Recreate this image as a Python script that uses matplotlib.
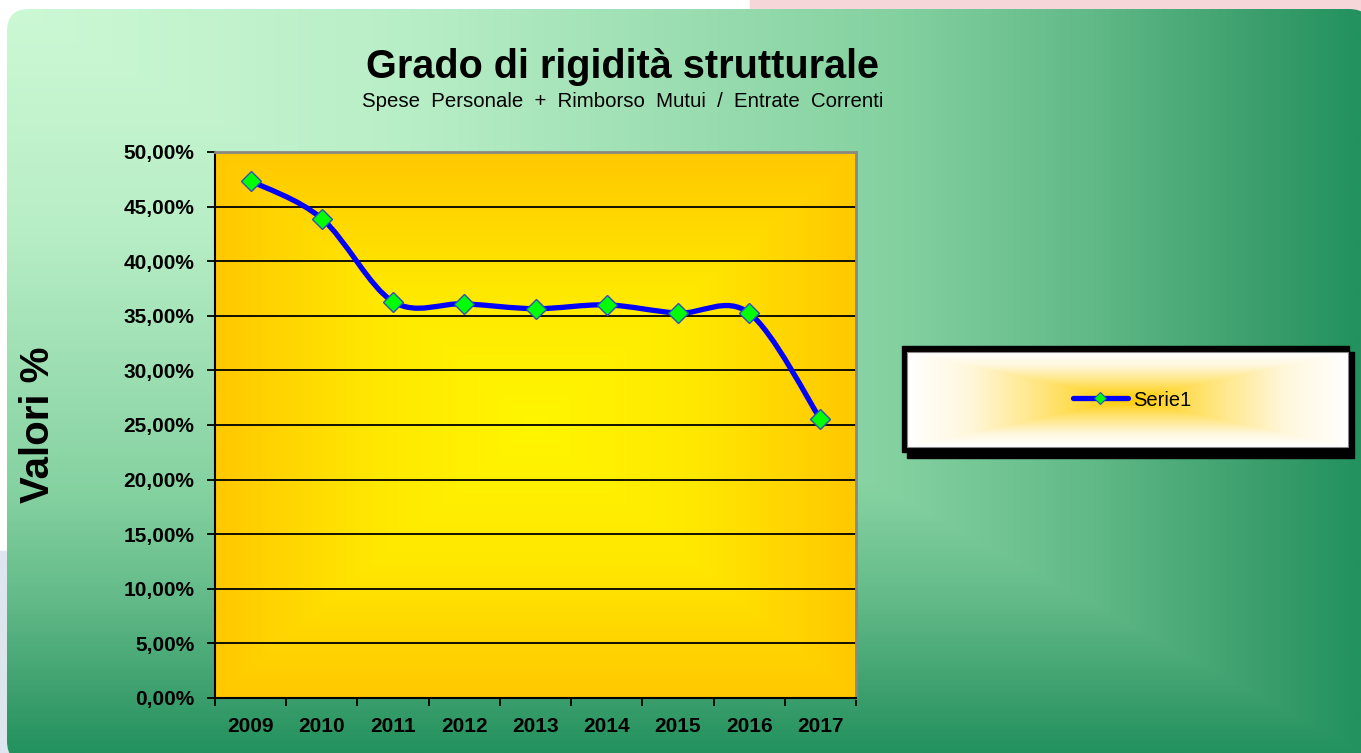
import numpy as np
import matplotlib
matplotlib.use("AGG")
import matplotlib.pyplot as plt
from matplotlib.colors import LinearSegmentedColormap
from matplotlib.patches import FancyBboxPatch, Rectangle, PathPatch
from matplotlib.path import Path
from matplotlib.lines import Line2D

plt.rcParams['font.family'] = ['Liberation Sans', 'DejaVu Sans']

# data
years = ["2009", "2010", "2011", "2012", "2013", "2014", "2015", "2016", "2017"]
values = [47.35, 43.9, 36.3, 36.1, 35.65, 36.0, 35.25, 35.25, 25.55]
yticks = [0, 5, 10, 15, 20, 25, 30, 35, 40, 45, 50]
series_name = "Serie1"

title = "Grado di rigidità strutturale"
subtitle = "Spese  Personale  +  Rimborso  Mutui  /  Entrate  Correnti"
ylabel = "Valori %"

W, H = 1361, 753
fig = plt.figure(figsize=(W / 100, H / 100), dpi=100)
fig.patch.set_facecolor("white")

# background layer in pixel coordinates
bg = fig.add_axes([0, 0, 1, 1])
bg.set_xlim(0, W)
bg.set_ylim(H, 0)
bg.axis("off")

bg.add_patch(Rectangle((750, 0), W - 750, 40, color="#f6d6d9", zorder=0))
bg.add_patch(Rectangle((0, 551), 200, H - 551, color="#dde5ee", zorder=0))

# green panel, "from corner" gradient
green = LinearSegmentedColormap.from_list("green", [
    (0.0, "#cdf9d5"), (0.3, "#b8eec6"), (0.66, "#84d1a0"),
    (0.8, "#62ba88"), (0.93, "#3a9e6c"), (1.0, "#23925e")])
gx, gy = np.meshgrid(np.linspace(0, 1, 680), np.linspace(0, 1, 376))
im = bg.imshow(np.maximum(gx, gy), cmap=green, vmin=0, vmax=1,
               extent=(0, W, H, 0), aspect="auto", zorder=1, interpolation="bilinear")
panel = FancyBboxPatch((7, 9), W + 10 - 7, H + 10 - 9,
                       boxstyle="round,pad=0,rounding_size=22",
                       facecolor="none", edgecolor="none", zorder=1)
bg.add_patch(panel)
im.set_clip_path(panel)

# legend box
bg.add_patch(Rectangle((907, 352), 447, 106, color="black", zorder=2))
bg.add_patch(Rectangle((902, 346), 447, 106, color="black", zorder=3))
lx, ly = np.meshgrid(np.linspace(-1, 1, 440), np.linspace(-1, 1, 95))
lt = np.maximum(np.abs(lx), np.abs(ly))
legcm = LinearSegmentedColormap.from_list("leg", [
    (0.0, "#ffcc00"), (0.4, "#ffe680"), (0.72, "#fff7dc"), (1.0, "#ffffff")])
bg.imshow(lt, cmap=legcm, vmin=0, vmax=1, extent=(907, 1348, 447, 352),
          aspect="auto", zorder=4, interpolation="bilinear")
bg.add_patch(Rectangle((907, 352), 441, 95, facecolor="none",
                       edgecolor="#888888", lw=0.8, zorder=5))
bg.add_line(Line2D([1073, 1128], [398, 398], color="#0000ff", lw=3.8,
                   solid_capstyle="round", zorder=6))
bg.add_line(Line2D([1100], [398], marker="D", ms=6, mfc="#00ff00",
                   mec="#3050c0", mew=0.8, zorder=7))
bg.text(1133, 400, series_name, fontsize=14.5, va="center", ha="left", zorder=7)

# titles
bg.text(623, 78, title, fontsize=28.5, fontweight="bold", ha="center",
        va="baseline", zorder=5)
bg.text(623, 107, subtitle, fontsize=14.7, ha="center", va="baseline", zorder=5)
bg.text(38, 425, ylabel, fontsize=29, fontweight="bold", rotation=90,
        ha="center", va="center", zorder=5)

# plot area
ax = fig.add_axes([215 / W, 1 - 698 / H, 641 / W, 546 / H])
ax.set_facecolor("none")
n = len(years)
ax.set_xlim(-0.5, n - 0.5)
ax.set_ylim(0, 50)

yel = LinearSegmentedColormap.from_list("yel", ["#fff600", "#ffe800", "#ffc800"])
px, py = np.meshgrid(np.linspace(-1, 1, 320), np.linspace(-1, 1, 270))
ax.imshow(np.maximum(np.abs(px), np.abs(py)), cmap=yel, vmin=0, vmax=1,
          extent=(-0.5, n - 0.5, 0, 50), aspect="auto", zorder=0,
          interpolation="bilinear")

for v in yticks[1:-1]:
    ax.axhline(v, color="black", lw=1.3, zorder=1)

# smoothed line (bezier through the points, like the spreadsheet)
xs = np.arange(n, dtype=float)
ys = np.array(values)
verts = [(xs[0], ys[0])]
codes = [Path.MOVETO]
for i in range(n - 1):
    i0, i3 = max(i - 1, 0), min(i + 2, n - 1)
    c1 = (xs[i] + (xs[i + 1] - xs[i0]) / 6, ys[i] + (ys[i + 1] - ys[i0]) / 6)
    c2 = (xs[i + 1] - (xs[i3] - xs[i]) / 6, ys[i + 1] - (ys[i3] - ys[i]) / 6)
    verts += [c1, c2, (xs[i + 1], ys[i + 1])]
    codes += [Path.CURVE4] * 3
ax.add_patch(PathPatch(Path(verts, codes), facecolor="none", edgecolor="#0000ff",
                       lw=3.8, capstyle="round", joinstyle="round", zorder=3))
ax.plot(xs, ys, ls="none", marker="D", ms=10.5, mfc="#00ff00", mec="#3050c0",
        mew=1.0, zorder=4)

ax.set_yticks(yticks)
ax.set_yticklabels([f"{v:.2f}%".replace(".", ",") for v in yticks],
                   fontsize=15, fontweight="bold")
ax.set_xticks(xs)
ax.set_xticklabels(years, fontsize=15, fontweight="bold")
ax.set_xticks(np.arange(n + 1) - 0.5, minor=True)
ax.tick_params(axis="x", which="major", length=0, pad=14)
ax.tick_params(axis="x", which="minor", length=6, width=1.3, direction="out")
ax.tick_params(axis="y", length=6, width=1.3, direction="out", pad=9)

for s in ["left", "bottom"]:
    ax.spines[s].set_color("black")
    ax.spines[s].set_linewidth(1.5)
for s in ["top", "right"]:
    ax.spines[s].set_color("#8a8a80")
    ax.spines[s].set_linewidth(2)

fig.savefig("out.png", dpi=100)
